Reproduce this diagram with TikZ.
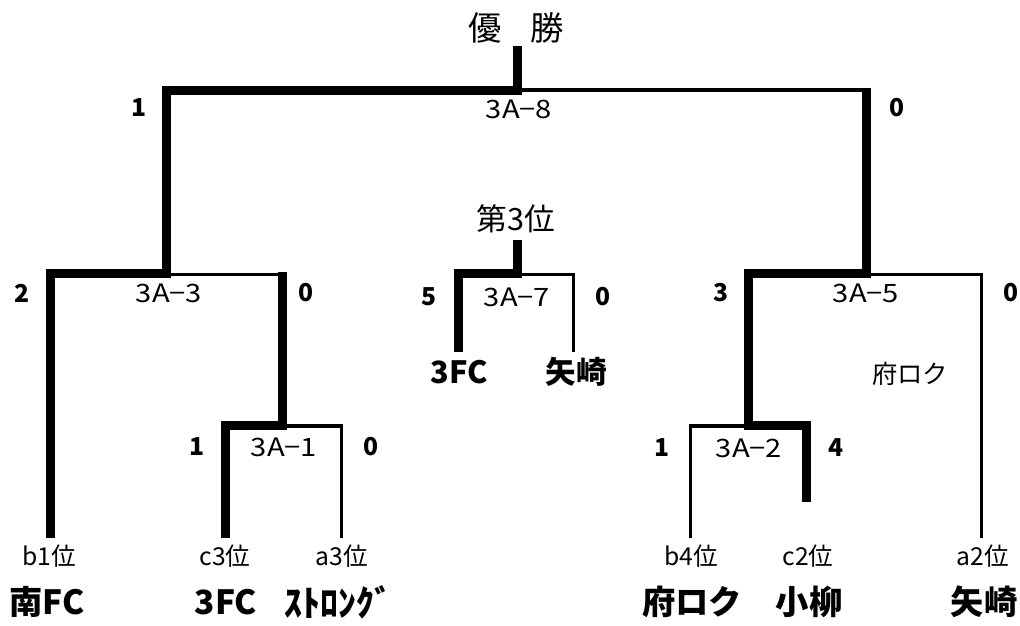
\documentclass[tikz,border=0pt]{standalone}
\usepackage{fontspec}
\setmainfont{Noto Sans CJK JP}
\newfontfamily\matchfont[FakeStretch=1.15]{Noto Sans CJK JP}
\begin{document}
\begin{tikzpicture}[x=0.75pt,y=-0.75pt,
  thick line/.style={line width=6.75pt,line join=miter,line cap=butt},
  thin line/.style={line width=2.4pt,line join=miter,line cap=butt},
  every node/.style={inner sep=0pt,outer sep=0pt},
  match/.style={font=\matchfont\fontsize{19}{19}\selectfont},
  score/.style={font=\fontsize{18.5}{18.5}\selectfont\bfseries},
  seed/.style={font=\fontsize{18.5}{18.5}\selectfont},
  team/.style={font=\fontsize{25}{25}\selectfont\bfseries},
  wideteam/.style={font=\fontsize{27}{27}\selectfont\bfseries},
  midteam/.style={font=\fontsize{23}{23}\selectfont\bfseries},
  title/.style={font=\fontsize{25}{25}\selectfont},
  third/.style={font=\fontsize{23}{23}\selectfont},
  note/.style={font=\fontsize{19}{19}\selectfont}]
\useasboundingbox (0,0) rectangle (1020,625);
% ---------- coordinates ----------
% final
\coordinate (wTop) at (517,46);
\coordinate (wJ) at (517,90.5);
\coordinate (wJt) at (517,90);
\coordinate (fL) at (166.5,90.5);
\coordinate (fR) at (866,88);
\coordinate (fRt) at (866,90);
% 3A-3
\coordinate (s3J) at (166.5,273.5);
\coordinate (s3Jt) at (166.5,274.5);
\coordinate (s3L) at (50.5,273.5);
\coordinate (s3R) at (282.5,272);
\coordinate (s3Rt) at (282.5,274.5);
% 3A-1
\coordinate (m1J) at (282.5,425.5);
\coordinate (m1Jt) at (282.5,426);
\coordinate (m1L) at (225.5,425.5);
\coordinate (m1R) at (341.5,426);
% 3A-7
\coordinate (tTop) at (517,240);
\coordinate (tJ) at (517,273.5);
\coordinate (tJt) at (517,274.5);
\coordinate (tL) at (458,273.5);
\coordinate (tR) at (573.5,274.5);
\coordinate (tLb) at (458,352);
\coordinate (tRb) at (573.5,352);
% 3A-5
\coordinate (s5J) at (866,273.5);
\coordinate (s5Jt) at (866,274.5);
\coordinate (s5L) at (748.5,273.5);
\coordinate (s5R) at (981.5,274.5);
% 3A-2
\coordinate (m2J) at (748.5,425.5);
\coordinate (m2Jt) at (748.5,426);
\coordinate (m2L) at (690.5,426);
\coordinate (m2R) at (806.5,425.5);
\coordinate (m2Rb) at (806.5,502);
% leaves
\coordinate (b1) at (50.5,538);
\coordinate (c3) at (225.5,538);
\coordinate (a3) at (341.5,538);
\coordinate (b4) at (690.5,538);
\coordinate (a2) at (981.5,538);
% ---------- thin lines ----------
\draw[thin line] (wJt) -- (fRt);
\draw[thin line] (s3Jt) -- (s3Rt);
\draw[thin line] (m1Jt) -- (m1R) -- (a3);
\draw[thin line] (tJt) -- (tR) -- (tRb);
\draw[thin line] (b4) -- (m2L) -- (m2Jt);
\draw[thin line] (s5Jt) -- (s5R) -- (a2);
% ---------- thick lines ----------
\draw[thick line] (b1) -- (s3L) -- (s3J) -- (fL) -- (wJ) -- (wTop);
\draw[thick line] (c3) -- (m1L) -- (m1J) -- (s3R);
\draw[thick line] (tLb) -- (tL) -- (tJ) -- (tTop);
\draw[thick line] (m2Rb) -- (m2R) -- (m2J) -- (s5L) -- (s5J) -- (fR);
% ---------- titles ----------
\node[title] (win) at (516,28) {優\hspace{21.5pt}勝};
\node[third] (thirdT) at (516,219) {第3位};
% ---------- match labels ----------
\node[match] (m8) at (519,109) {3A−8};
\node[match] (m3) at (169,293) {3A−3};
\node[match] (m7) at (517,297) {3A−7};
\node[match] (m5) at (866,293) {3A−5};
\node[match] (m1) at (284,447) {3A−1};
\node[match] (m2) at (749,448) {3A−2};
% ---------- scores ----------
\node[score] (sc8l) at (139,108) {1};
\node[score] (sc8r) at (897,108) {0};
\node[score] (sc3l) at (22,293) {2};
\node[score] (sc3r) at (306,293) {0};
\node[score] (sc7l) at (429,297) {5};
\node[score] (sc7r) at (603,297) {0};
\node[score] (sc5l) at (721,293) {3};
\node[score] (sc5r) at (1011,293) {0};
\node[score] (sc1l) at (197,447) {1};
\node[score] (sc1r) at (371,447) {0};
\node[score] (sc2l) at (662,448) {1};
\node[score] (sc2r) at (836,448) {4};
% ---------- third place teams ----------
\node[midteam] (t3a) at (459,372) {3FC};
\node[midteam] (t3b) at (576,372) {矢崎};
\node[note] (n5) at (910,374) {府ロク};
% ---------- seeds ----------
\node[seed] (sd1) at (49,556) {b1位};
\node[seed] (sd2) at (225,556) {c3位};
\node[seed] (sd3) at (342,556) {a3位};
\node[seed] (sd4) at (691,556) {b4位};
\node[seed] (sd5) at (808,556) {c2位};
\node[seed] (sd6) at (983,556) {a2位};
% ---------- teams ----------
\node[team] (tm1) at (47,602) {南FC};
\node[team] (tm2) at (226,602) {3FC};
\node[wideteam] (tm3) at (338,602) {ｽﾄﾛﾝｸﾞ};
\node[team] (tm4) at (692,602) {府ロク};
\node[team] (tm5) at (809,602) {小柳};
\node[team] (tm6) at (984,602) {矢崎};
\end{tikzpicture}
\end{document}
